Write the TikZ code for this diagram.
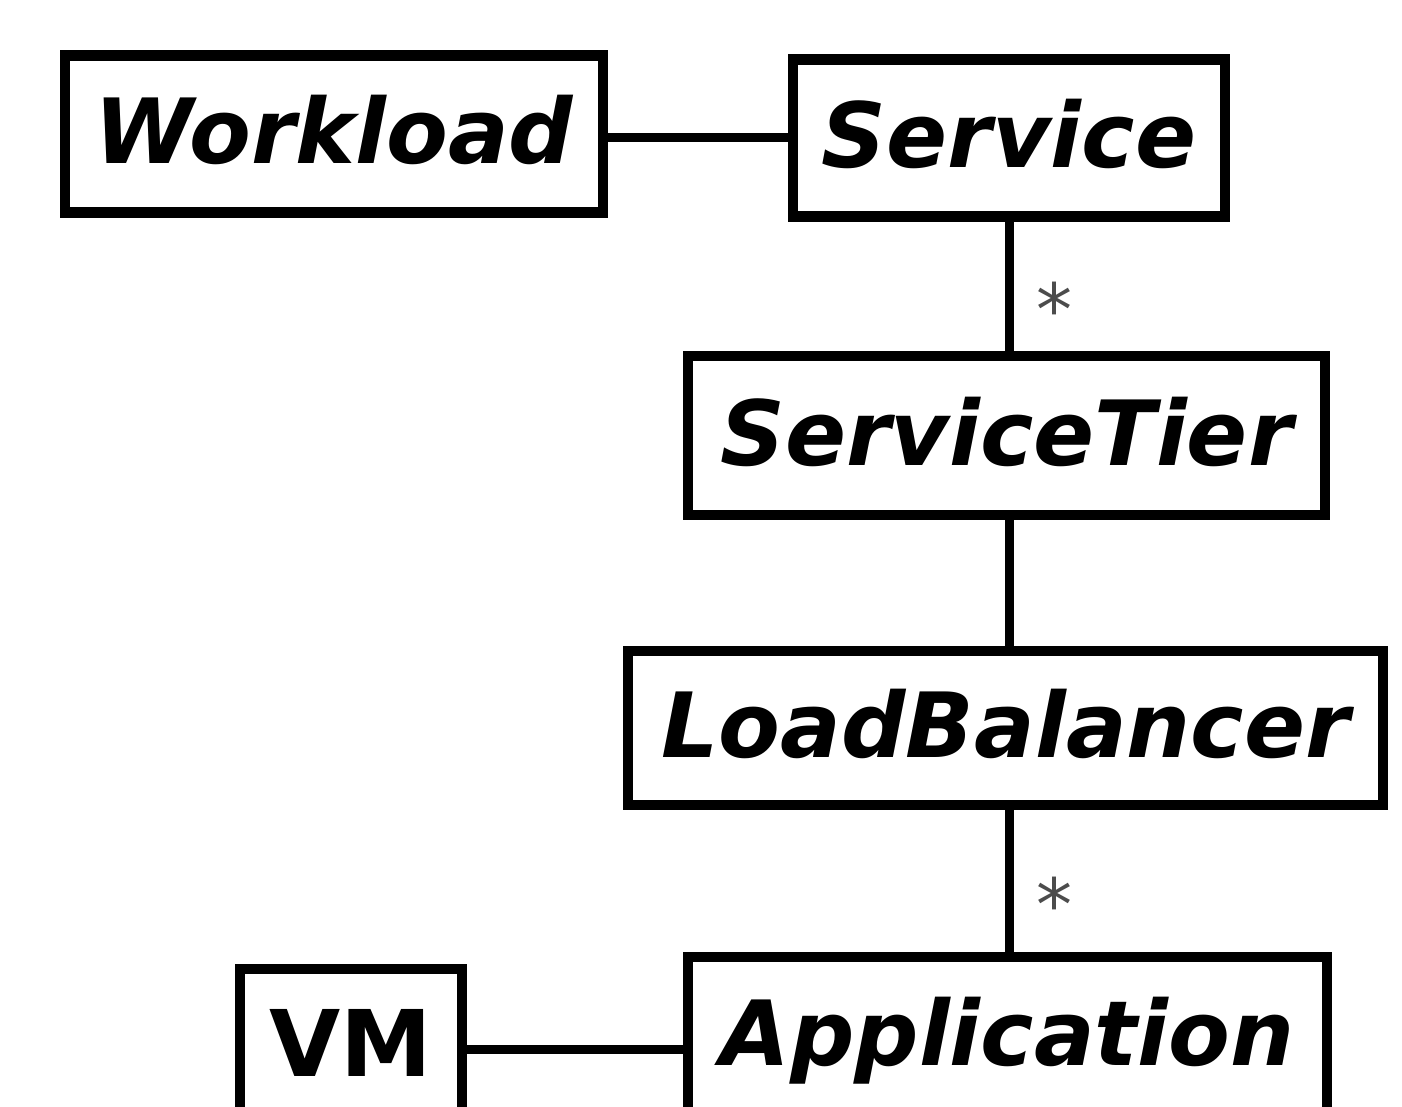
\documentclass[tikz,border=0pt]{standalone}
\usepackage{fontspec}
\setmainfont{DejaVu Sans}
\begin{document}
\begin{tikzpicture}[x=1pt,y=-1pt,
  box/.style={draw, line width=10.5pt, inner sep=0pt, text height=66pt, text depth=7pt,
    font=\fontsize{90}{96}\selectfont\bfseries\itshape},
  uprightbox/.style={box, font=\fontsize{92}{96}\selectfont\bfseries},
  conn/.style={line width=9pt},
  starlbl/.style={anchor=base, inner sep=0pt, text=black!70, font=\fontsize{72}{80}\selectfont, xshift=45pt, yshift=-49pt}]
\useasboundingbox (0,0) rectangle (1402,1107);
\clip (0,0) rectangle (1402,1107);
\node[box, minimum width=538pt, minimum height=157pt] (W) at (334,134) {Workload};
\node[box, minimum width=432pt, minimum height=157pt] (S) at (1009,138) {Service};
\node[box, minimum width=637pt, minimum height=159pt] (ST) at (1006.5,435.5) {ServiceTier};
\node[box, minimum width=755pt, minimum height=154pt] (LB) at (1005.5,728) {LoadBalancer};
\node[box, minimum width=639pt, minimum height=158pt] (A) at (1007.5,1036) {Application};
\node[uprightbox, minimum width=222pt, minimum height=156pt] (VM) at (351,1047) {VM};
\draw[conn] (S.west) -- (S.west -| W.east);
\draw[conn] (S.south) -- node[starlbl] {*} (S.south |- ST.north);
\draw[conn] (ST.south -| S.south) -- (S.south |- LB.north);
\draw[conn] (LB.south -| S.south) -- node[starlbl] {*} (S.south |- A.north);
\draw[conn] (VM.east |- 0,1049) -- (A.west |- 0,1049);
\end{tikzpicture}
\end{document}
